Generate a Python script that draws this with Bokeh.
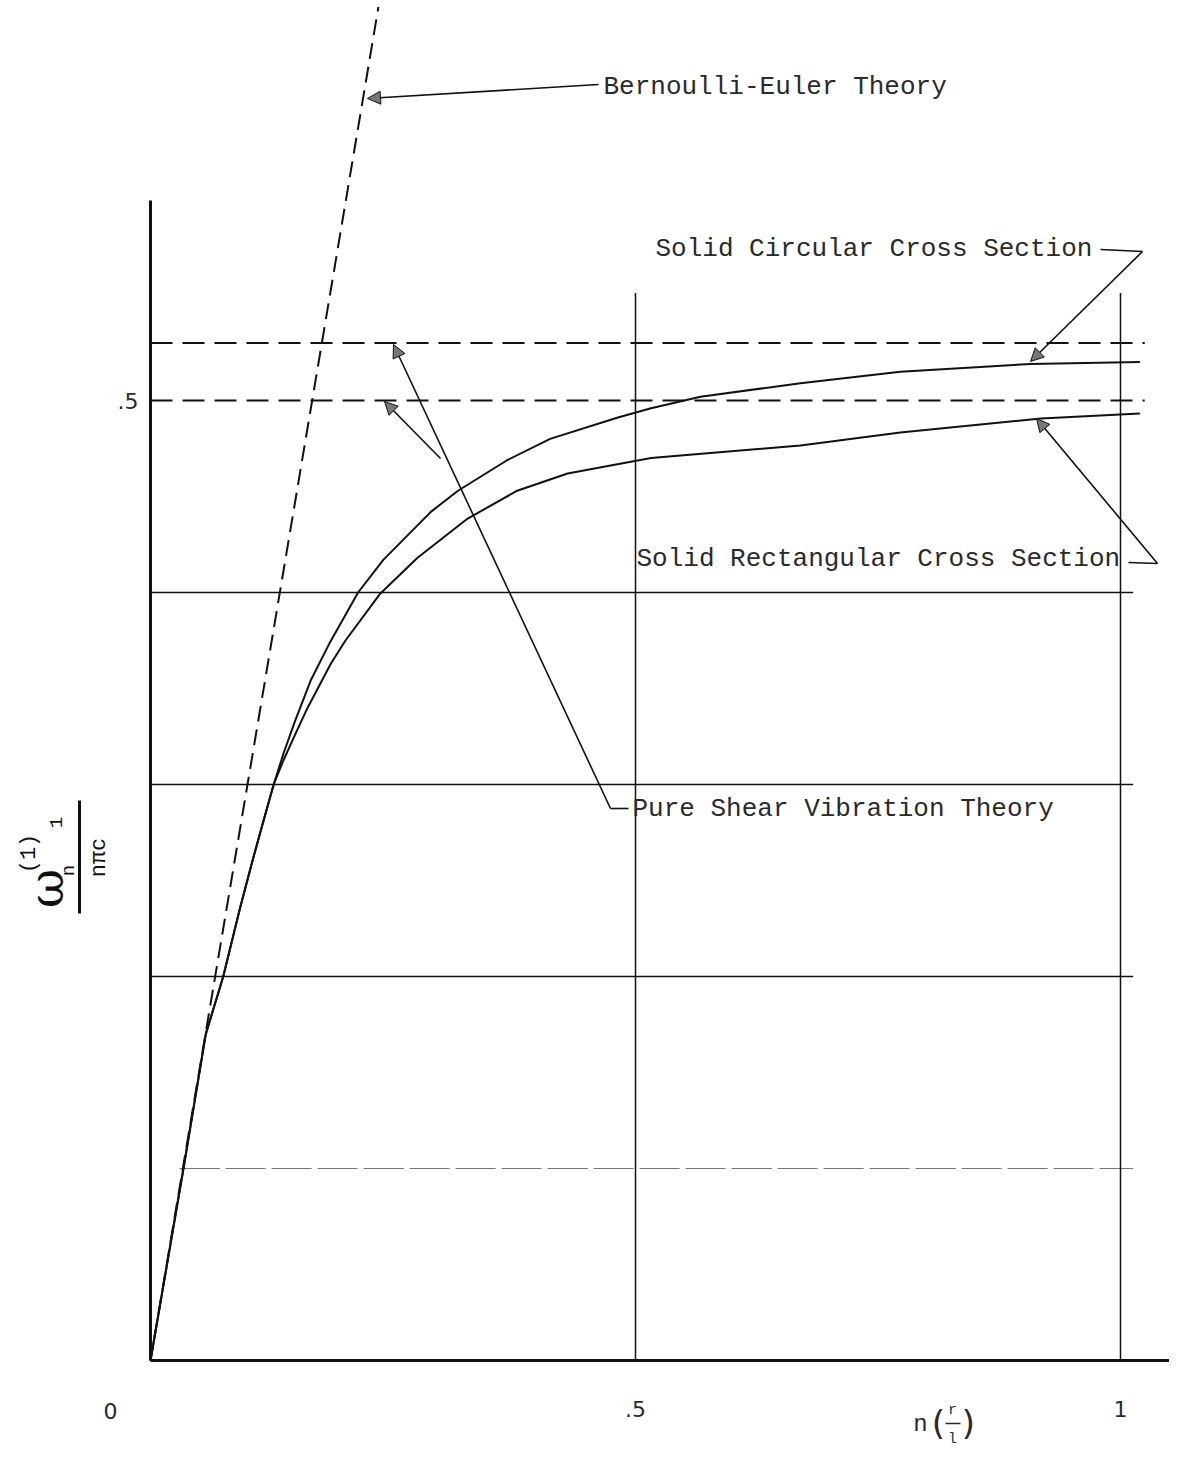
import math
from bokeh.plotting import figure
from bokeh.models import Range1d, LinearAxis, FixedTicker, Label, Arrow, NormalHead
from bokeh.embed import file_html
from bokeh.resources import INLINE

# ---------------- data ----------------
# Bernoulli-Euler theory (straight dashed line)
be_x = [0.0, 0.235]
be_y = [0.0, 0.705]

# Solid circular cross section
circ_x = [0.0, 0.034, 0.057, 0.075, 0.092, 0.105, 0.117, 0.127, 0.137, 0.149, 0.165, 0.185,
          0.214, 0.240, 0.289, 0.317, 0.368, 0.412, 0.481, 0.516, 0.567, 0.670, 0.773, 0.907, 1.02]
circ_y = [0.0, 0.100, 0.170, 0.200, 0.235, 0.260, 0.282, 0.300, 0.316, 0.333, 0.354, 0.374,
          0.400, 0.417, 0.442, 0.453, 0.469, 0.480, 0.491, 0.496, 0.502, 0.509, 0.515, 0.519, 0.520]

# Solid rectangular cross section
rect_x = [0.0, 0.034, 0.057, 0.075, 0.092, 0.105, 0.117, 0.127, 0.137, 0.150, 0.162, 0.186,
          0.201, 0.237, 0.275, 0.327, 0.378, 0.430, 0.516, 0.670, 0.773, 0.918, 1.02]
rect_y = [0.0, 0.100, 0.170, 0.200, 0.235, 0.260, 0.282, 0.300, 0.3125, 0.327, 0.340, 0.363,
          0.375, 0.3995, 0.418, 0.4385, 0.453, 0.462, 0.470, 0.4766, 0.4833, 0.4906, 0.4932]

# Pure shear vibration theory limits (dashed horizontals)
shear_y = [0.53, 0.50]
shear_x_end = 1.025

# grid lines
hgrid_y = [0.2, 0.3, 0.4]
hgrid_faint_y = [0.1]
vgrid_x = [0.5, 1.0]

# tick labels
x_ticks = [0.5, 1.0]
x_tick_labels = [".5", "1"]
y_ticks = [0.5]
y_tick_labels = [".5"]

# ---------------- layout helpers (picture pixel -> data) ----------------
X0, Y0, SX, SY = 150.0, 1360.0, 970.0, 1920.0
def dx(px):
    return (px - X0) / SX
def dy(py):
    return (Y0 - py) / SY

W, H = 1169, 1450
p = figure(width=W, height=H, output_backend="svg", toolbar_location=None,
           x_range=Range1d(dx(0), dx(W)), y_range=Range1d(dy(H), dy(0)),
           x_axis_type=None, y_axis_type=None, min_border=0,
           outline_line_color=None, background_fill_color="white")
p.grid.visible = False

INK = "#111111"
TXT = "#2a2a2a"
MONO = "Liberation Mono"

# axes at fixed locations
yax = LinearAxis(fixed_location=0, bounds=(0, 0.604), ticker=FixedTicker(ticks=y_ticks),
                 major_label_overrides={t: l for t, l in zip(y_ticks, y_tick_labels)},
                 major_tick_out=0, major_tick_in=0, minor_tick_out=0, minor_tick_in=0,
                 axis_line_width=3, axis_line_color=INK, major_label_standoff=12,
                 major_label_text_font="DejaVu Sans", major_label_text_font_size="22px",
                 major_label_text_color=TXT)
p.add_layout(yax, "left")
xax = LinearAxis(fixed_location=0, bounds=(0, dx(W)), ticker=FixedTicker(ticks=x_ticks),
                 major_label_overrides={t: l for t, l in zip(x_ticks, x_tick_labels)},
                 major_tick_out=0, major_tick_in=0, minor_tick_out=0, minor_tick_in=0,
                 axis_line_width=3, axis_line_color=INK, major_label_standoff=40,
                 major_label_text_font="DejaVu Sans", major_label_text_font_size="22px",
                 major_label_text_color=TXT)
p.add_layout(xax, "below")

# grid lines
p.segment(x0=[0] * len(hgrid_y), y0=hgrid_y, x1=[1.013] * len(hgrid_y), y1=hgrid_y,
          line_color=INK, line_width=1.5)
p.segment(x0=[0.03], y0=hgrid_faint_y, x1=[1.013], y1=hgrid_faint_y,
          line_color="#777777", line_width=1, line_dash="40 6")
p.segment(x0=vgrid_x, y0=[0] * len(vgrid_x), x1=vgrid_x, y1=[0.556] * len(vgrid_x),
          line_color=INK, line_width=1.5)

# theory lines
p.line(be_x, be_y, line_color=INK, line_width=2, line_dash="16 8")
for sy in shear_y:
    p.line([0, shear_x_end], [sy, sy], line_color=INK, line_width=2, line_dash="22 10")
p.line(circ_x, circ_y, line_color=INK, line_width=2, line_join="round")
p.line(rect_x, rect_y, line_color=INK, line_width=2, line_join="round")

# ---------------- annotations ----------------
def txt(px, py, s, size=26, font=MONO, align="left", angle=0.0, color=TXT, style="normal"):
    p.add_layout(Label(x=dx(px), y=dy(py), text=s, text_font=font, text_font_size=f"{size}px",
                       text_align=align, text_baseline="middle", angle=angle,
                       text_color=color, text_font_style=style))

def leader(pts):
    p.line([dx(a) for a, b in pts], [dy(b) for a, b in pts], line_color=INK, line_width=1.6)

def arrow(x0, y0, x1, y1):
    p.add_layout(Arrow(end=NormalHead(size=13, fill_color="#777777", line_color=INK, line_width=1),
                       x_start=dx(x0), y_start=dy(y0), x_end=dx(x1), y_end=dy(y1),
                       line_color=INK, line_width=1.6))

txt(603, 86, "Bernoulli-Euler Theory")
arrow(598, 84, 367, 98)

txt(655, 248, "Solid Circular Cross Section")
leader([(1100, 249), (1142, 251)])
arrow(1142, 251, 1030, 361)

txt(636, 558, "Solid Rectangular Cross Section")
leader([(1128, 562), (1157, 563)])
arrow(1157, 563, 1036, 418)

txt(632, 808, "Pure Shear Vibration Theory")
leader([(628, 808), (610, 808)])
arrow(610, 808, 393, 344)
arrow(440, 458, 384, 401)

# x-axis origin label and title
txt(110, 1410, "0", size=22, font="DejaVu Sans", align="center")
txt(920, 1424, "n", size=24, align="center")
txt(938, 1422, "(", size=34, font="DejaVu Sans", align="center")
txt(952, 1410, "r", size=15, align="center")
p.line([dx(945), dx(960)], [dy(1423), dy(1423)], line_color=TXT, line_width=1.5)
txt(952, 1439, "l", size=15, align="center")
txt(968, 1422, ")", size=34, font="DejaVu Sans", align="center")

# y-axis title (rotated):  omega^(1)_n l / (n pi c)
R = math.pi / 2
txt(45, 888, "ω", size=48, font="DejaVu Serif", align="center", angle=R, color=INK)
txt(29, 853, "(1)", size=22, align="center", angle=R, color=INK)
txt(68, 870, "n", size=19, align="center", angle=R, color=INK)
txt(55, 822, "1", size=19, align="center", angle=R, color=INK)
p.line([dx(79), dx(79)], [dy(800), dy(913)], line_color=INK, line_width=3)
txt(99, 857, "nπc", size=22, align="center", angle=R, color=INK)

open("out.html", "w").write(file_html(p, INLINE))
